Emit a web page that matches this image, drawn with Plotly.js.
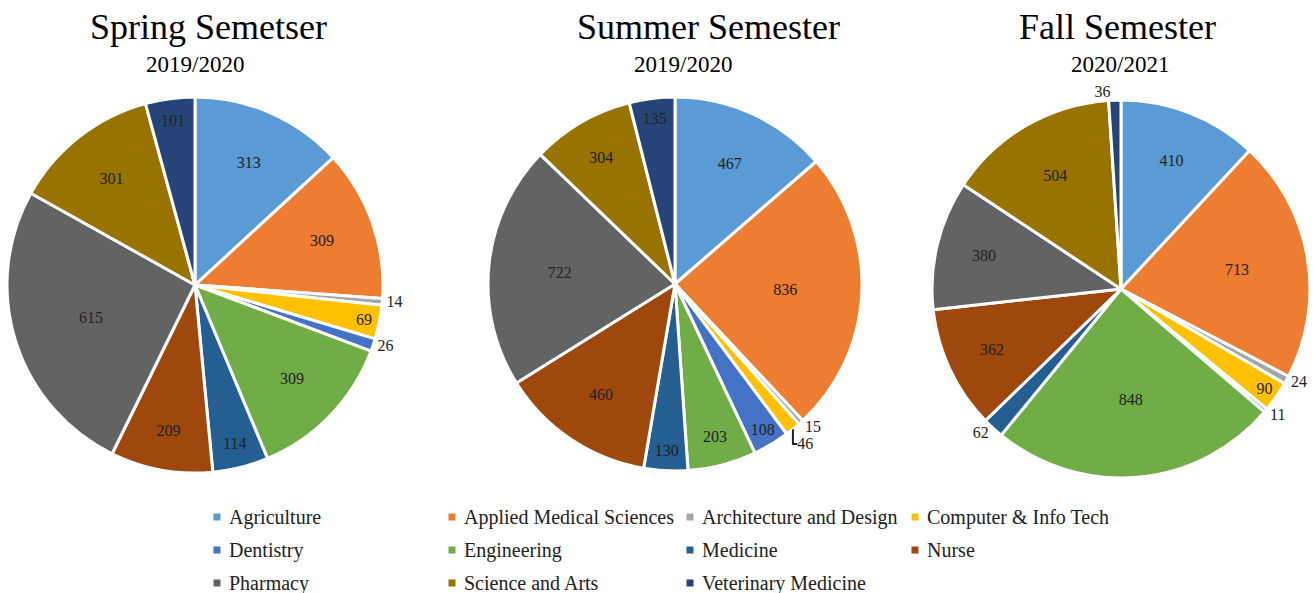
<!DOCTYPE html>
<html><head><meta charset="utf-8">
<script src="https://cdn.plot.ly/plotly-3.0.1.min.js"></script>
<style>html,body{margin:0;padding:0;background:#fff}#chart{width:1314px;height:593px}</style>
</head><body><div id="chart"></div>
<script>
const categories = ["Agriculture","Applied Medical Sciences","Architecture and Design","Computer & Info Tech","Dentistry","Engineering","Medicine","Nurse","Pharmacy","Science and Arts","Veterinary Medicine"];
const springValues = [313,309,14,69,26,309,114,209,615,301,101];
const summerValues = [467,836,15,46,108,203,130,460,722,304,135];
const fallValues   = [410,713,24,90,11,848,62,362,380,504,36];
const semesterTitles = ["Spring Semetser","Summer Semester","Fall Semester"];
const semesterYears = ["2019/2020","2019/2020","2020/2021"];
const colors = ["#5B9BD5","#ED7D31","#A5A5A5","#FFC000","#4472C4","#70AD47","#255E91","#9E480E","#636363","#997300","#264478"];

const W = 1314, H = 593;
const serif = "Liberation Serif";
const pies = [
  {vals: springValues, cx: 195, cy: 285, r: 188, tx: 208, sx: 195},
  {vals: summerValues, cx: 675, cy: 284, r: 187, tx: 708, sx: 683},
  {vals: fallValues,   cx: 1121, cy: 289, r: 189, tx: 1117, sx: 1120}
];
const traces = pies.map((p, i) => {
  const total = p.vals.reduce((a, b) => a + b, 0);
  return {
    type: "pie", labels: categories, values: p.vals, sort: false,
    direction: "clockwise", rotation: 0,
    marker: {colors: colors, line: {color: "#fff", width: 3}},
    textinfo: "value",
    textposition: p.vals.map(v => v / total < 0.02 ? "outside" : "inside"),
    insidetextorientation: "horizontal",
    textfont: {family: serif, size: 16, color: "#222"},
    insidetextfont: {family: serif, size: 16, color: "#222"},
    outsidetextfont: {family: serif, size: 16, color: "#222"},
    hoverinfo: "label+value",
    showlegend: false,
    domain: {x: [(p.cx - p.r) / W, (p.cx + p.r) / W], y: [1 - (p.cy + p.r) / H, 1 - (p.cy - p.r) / H]}
  };
});

const annotations = [];
const shapes = [];
pies.forEach((p, i) => {
  annotations.push({text: semesterTitles[i], x: p.tx / W, y: 1 - 27 / H, xref: "paper", yref: "paper",
    xanchor: "center", yanchor: "middle", showarrow: false, font: {family: serif, size: 36, color: "#000"}});
  annotations.push({text: semesterYears[i], x: p.sx / W, y: 1 - 64 / H, xref: "paper", yref: "paper",
    xanchor: "center", yanchor: "middle", showarrow: false, font: {family: serif, size: 23, color: "#000"}});
});
const colMarkerX = [217, 452, 690, 915];
const rowY = [517, 550, 583];
categories.forEach((c, k) => {
  const col = k % 4, row = Math.floor(k / 4);
  const mx = colMarkerX[col], my = rowY[row];
  shapes.push({type: "rect", xref: "paper", yref: "paper", x0: (mx - 3.5) / W, x1: (mx + 3.5) / W,
    y0: 1 - (my + 3.5) / H, y1: 1 - (my - 3.5) / H, fillcolor: colors[k], line: {width: 0}});
  annotations.push({text: c, x: (mx + 10) / W, y: 1 - my / H, xref: "paper", yref: "paper",
    xanchor: "left", yanchor: "middle", showarrow: false, font: {family: serif, size: 20, color: "#222"}});
});

Plotly.newPlot("chart", traces, {
  width: W, height: H, margin: {l: 0, r: 0, t: 0, b: 0},
  paper_bgcolor: "#fff", plot_bgcolor: "#fff",
  font: {family: serif},
  showlegend: false, annotations: annotations, shapes: shapes
}, {displayModeBar: false});
</script></body></html>
